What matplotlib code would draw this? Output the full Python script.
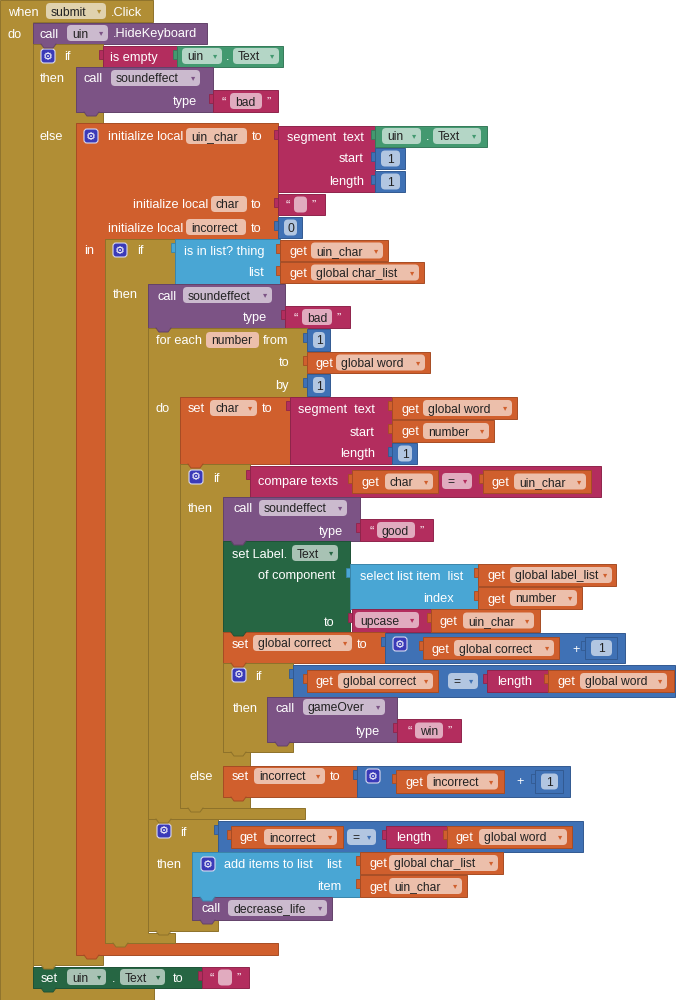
import matplotlib
matplotlib.use('Agg')
import matplotlib.pyplot as plt
from matplotlib.patches import Rectangle, FancyBboxPatch, Polygon
from matplotlib.colors import to_rgb

# names shown in the blocks
component = 'uin'
event_name = ['submit', '.Click']
locals_ = ['uin_char', 'char', 'incorrect', 'number']
globals_ = ['global char_list', 'global word', 'global label_list', 'global correct']
procs = ['soundeffect', 'gameOver', 'decrease_life']
sounds = ['bad', 'bad', 'good', 'win']

GOLD = '#b18e35'
PURPLE = '#7c5385'
MAGENTA = '#b32d5e'
ORANGE = '#d05f2d'
BLUE = '#3f71b5'
LBLUE = '#49a6d4'
GREEN = '#439970'
DGREEN = '#266643'

FS = 9.2    # block labels
FFS = 8.7   # text inside fields
FONT = ['Liberation Sans', 'DejaVu Sans']

fig = plt.figure(figsize=(6.84, 10), dpi=100)
ax = fig.add_axes([0, 0, 1, 1])
ax.set_xlim(0, 684)
ax.set_ylim(1000, 0)
ax.axis('off')

notches = []  # bumps under statement blocks, drawn last


def dark(c, f=0.8):
    r, g, b = to_rgb(c)
    return (r * f, g * f, b * f)


def light(c, f=0.6):
    r, g, b = to_rgb(c)
    return (r + (1 - r) * f, g + (1 - g) * f, b + (1 - b) * f)


def box(x0, y0, x1, y1, c, tab=False, stmt=False):
    if tab:
        ax.add_patch(Rectangle((x0 - 4, y0 + 4), 5, 9, fc=c, ec=dark(c), lw=0.6))
    ax.add_patch(Rectangle((x0, y0), x1 - x0, y1 - y0, fc=c, ec=dark(c), lw=0.7))
    if stmt:
        notches.append((x0, y1, c))


def cshape(x0, xc, bands, c):
    # C shaped statement block: horizontal bands joined by a left column
    pts = [(x0, bands[0][0])]
    for i, (ya, yb, xr) in enumerate(bands):
        if i > 0:
            pts.append((xc, ya))
        pts += [(xr, ya), (xr, yb)]
        if i < len(bands) - 1:
            pts.append((xc, yb))
    pts.append((x0, bands[-1][1]))
    ax.add_patch(Polygon(pts, closed=True, fc=c, ec=dark(c), lw=0.7))
    notches.append((x0, bands[-1][1], c))


def lab(x, y, s, ha='left'):
    ax.text(x, y, s, color='white', fontsize=FS, ha=ha, va='center_baseline', family=FONT)


def fld(x0, x1, y, s, c, arrow=True, center=False):
    ax.add_patch(FancyBboxPatch((x0, y - 8), x1 - x0, 16,
                                boxstyle='round,pad=0,rounding_size=4',
                                fc=light(c), ec='none'))
    if center:
        ax.text((x0 + x1) / 2, y, s, color='#222222', fontsize=FFS, ha='center',
                va='center_baseline', family=FONT)
    else:
        ax.text(x0 + 5, y, s, color='#222222', fontsize=FFS, ha='left',
                va='center_baseline', family=FONT)
    if arrow:
        ax.text(x1 - 7, y, '\u25be', color=c, fontsize=6, ha='center', va='center',
                family='DejaVu Sans')


def gear(cx, cy):
    ax.add_patch(FancyBboxPatch((cx - 7, cy - 7), 14, 14,
                                boxstyle='round,pad=0,rounding_size=3',
                                fc='#3a3ab8', ec='#d8d8f0', lw=0.8))
    ax.text(cx, cy + 0.5, '\u2699', color='white', fontsize=8, ha='center', va='center',
            family='DejaVu Sans')


def string(x0, y0, x1, y1, fx0, fx1, s):
    box(x0, y0, x1, y1, MAGENTA, tab=True)
    cy = (y0 + y1) / 2
    lab(fx0 - 8, cy, '\u201c')
    fld(fx0, fx1, cy, s, MAGENTA, arrow=False)
    lab(fx1 + 5, cy, '\u201d')


def num(x0, y0, x1, y1, s):
    box(x0, y0, x1, y1, BLUE, tab=True)
    fld(x0 + 6, x1 - 5, (y0 + y1) / 2, s, BLUE, arrow=False, center=True)


def get(x0, y0, x1, y1, fx0, fx1, name):
    box(x0, y0, x1, y1, ORANGE, tab=True)
    cy = (y0 + y1) / 2
    lab(x0 + 9, cy, 'get')
    fld(fx0, fx1, cy, name, ORANGE)


# when submit.Click
cshape(0, 33, [(0, 22, 153), (988, 1000, 154)], GOLD)
notches.pop()
lab(8, 11, 'when')
fld(46, 106, 11, event_name[0], GOLD)
lab(111, 11, event_name[1])
lab(8, 34, 'do')

box(33, 23, 207, 44, PURPLE, stmt=True)
lab(40, 33, 'call')
fld(67, 108, 33, component, PURPLE)
lab(113, 33, '.HideKeyboard')

# if is empty
cshape(33, 76, [(44, 67, 103), (112, 123, 103), (955, 965, 103)], GOLD)
gear(48, 56)
lab(64, 56, 'if')
lab(40, 78, 'then')
lab(40, 135, 'else')
box(103, 46, 177, 67, MAGENTA, tab=True)
lab(110, 56, 'is empty')
box(177, 46, 283, 67, GREEN, tab=True)
fld(182, 222, 56, component, GREEN)
lab(226, 56, '.')
fld(233, 279, 56, 'Text', GREEN)

box(76, 67, 213, 112, PURPLE, stmt=True)
lab(84, 78, 'call')
fld(111, 200, 78, procs[0], PURPLE)
lab(197, 101, 'type', 'right')
string(213, 90, 278, 112, 230, 262, sounds[0])

# initialize locals
cshape(76, 105, [(123, 239, 278), (943, 955, 278)], ORANGE)
gear(91, 136)
lab(108, 136, 'initialize local')
fld(186, 247, 136, locals_[0], ORANGE, arrow=False)
lab(252, 136, 'to')
box(278, 126, 375, 192, MAGENTA, tab=True)
lab(364, 136, 'segment  text', 'right')
lab(364, 158, 'start', 'right')
lab(364, 181, 'length', 'right')
box(375, 126, 487, 147, GREEN, tab=True)
fld(382, 421, 136, component, GREEN)
lab(426, 136, '.')
fld(433, 481, 136, 'Text', GREEN)
num(375, 148, 405, 169, '1')
num(375, 171, 405, 192, '1')
lab(133, 204, 'initialize local')
fld(211, 247, 204, locals_[1], ORANGE, arrow=False)
lab(251, 204, 'to')
string(278, 194, 325, 215, 294, 307, '')
lab(108, 227, 'initialize local')
fld(186, 246, 227, locals_[2], ORANGE, arrow=False)
lab(251, 227, 'to')
num(278, 217, 302, 238, '0')
lab(84, 249, 'in')

# if is in list?
cshape(105, 148, [(239, 284, 175), (933, 943, 175)], GOLD)
gear(120, 250)
lab(137, 250, 'if')
lab(113, 294, 'then')
box(175, 239, 280, 284, LBLUE, tab=True)
lab(264, 250, 'is in list? thing', 'right')
lab(264, 272, 'list', 'right')
get(280, 240, 388, 261, 311, 383, locals_[0])
get(280, 262, 424, 283, 311, 419, globals_[0])

box(148, 284, 285, 328, PURPLE, stmt=True)
lab(157, 295, 'call')
fld(183, 272, 295, procs[0], PURPLE)
lab(267, 317, 'type', 'right')
string(285, 306, 350, 328, 302, 332, sounds[1])

# for each number
cshape(148, 180, [(328, 397, 307), (808, 819, 305)], GOLD)
lab(156, 340, 'for each')
fld(206, 259, 340, locals_[3], ORANGE, arrow=False)
lab(263, 340, 'from')
lab(289, 362, 'to', 'right')
lab(289, 385, 'by', 'right')
lab(156, 407, 'do')
num(307, 329, 330, 351, '1')
get(307, 352, 430, 373, 336, 425, globals_[1])
num(307, 374, 330, 396, '1')

# set char
box(180, 397, 290, 464, ORANGE, stmt=True)
lab(188, 408, 'set')
fld(210, 257, 408, locals_[1], ORANGE)
lab(262, 408, 'to')
box(290, 397, 392, 464, MAGENTA, tab=True)
lab(375, 408, 'segment  text', 'right')
lab(375, 431, 'start', 'right')
lab(375, 453, 'length', 'right')
get(392, 397, 517, 419, 423, 512, globals_[1])
get(392, 420, 494, 442, 423, 489, locals_[3])
num(392, 443, 417, 464, '1')

# if compare texts
cshape(180, 223, [(464, 497, 250), (752, 766, 250), (797, 808, 250)], GOLD)
gear(196, 477)
lab(213, 477, 'if')
lab(188, 507, 'then')
lab(189, 775, 'else')
box(250, 466, 601, 497, MAGENTA, tab=True)
lab(258, 481, 'compare texts')
get(352, 470, 438, 493, 385, 433, locals_[1])
fld(442, 472, 481, '=', MAGENTA)
get(483, 470, 591, 493, 514, 586, locals_[0])

box(223, 497, 360, 541, PURPLE, stmt=True)
lab(233, 508, 'call')
fld(259, 347, 508, procs[0], PURPLE)
lab(343, 531, 'type', 'right')
string(360, 519, 433, 541, 377, 415, sounds[2])

# set Label.Text
box(223, 541, 350, 632, DGREEN, stmt=True)
lab(232, 553, 'set Label.')
fld(292, 338, 553, 'Text', DGREEN)
lab(335, 575, 'of component', 'right')
lab(334, 621, 'to', 'right')
box(350, 564, 478, 609, LBLUE, tab=True)
lab(463, 575, 'select list item  list', 'right')
lab(454, 597, 'index', 'right')
get(478, 564, 616, 586, 510, 612, globals_[2])
get(478, 587, 582, 609, 510, 577, locals_[3])
box(352, 609, 431, 632, MAGENTA, tab=True)
fld(355, 419, 620, 'upcase', MAGENTA)
get(431, 609, 540, 632, 463, 534, locals_[0])

# set global correct
box(223, 632, 385, 663, ORANGE, stmt=True)
lab(232, 643, 'set')
fld(253, 352, 643, globals_[3], ORANGE)
lab(357, 643, 'to')
box(385, 633, 625, 663, BLUE, tab=True)
gear(400, 644)
get(423, 637, 559, 659, 454, 554, globals_[3])
lab(572, 648, '+')
num(585, 637, 617, 659, '1')

# if correct = length
cshape(223, 267, [(663, 697, 293), (742, 752, 293)], GOLD)
gear(239, 675)
lab(255, 675, 'if')
lab(233, 707, 'then')
box(293, 665, 675, 697, BLUE, tab=True)
get(307, 670, 438, 692, 338, 433, globals_[3])
fld(448, 478, 681, '=', BLUE)
box(487, 670, 548, 692, MAGENTA, tab=True)
lab(497, 681, 'length')
get(548, 670, 674, 692, 580, 667, globals_[1])

box(267, 697, 397, 742, PURPLE, stmt=True)
lab(275, 707, 'call')
fld(303, 385, 707, procs[1], PURPLE)
lab(380, 730, 'type', 'right')
string(397, 719, 461, 742, 415, 443, sounds[3])

# else: set incorrect
box(223, 766, 357, 797, ORANGE, stmt=True)
lab(232, 776, 'set')
fld(254, 325, 776, locals_[2], ORANGE)
lab(330, 776, 'to')
box(357, 766, 570, 797, BLUE, tab=True)
gear(373, 776)
get(396, 770, 504, 793, 427, 498, locals_[2])
lab(516, 781, '+')
num(535, 770, 563, 793, '1')

# if incorrect = length
cshape(148, 192, [(819, 852, 218), (920, 931, 218)], GOLD)
gear(164, 831)
lab(180, 831, 'if')
lab(157, 863, 'then')
box(218, 821, 583, 852, BLUE, tab=True)
get(231, 826, 343, 848, 264, 337, locals_[2])
fld(347, 376, 837, '=', BLUE)
box(386, 826, 447, 848, MAGENTA, tab=True)
lab(396, 837, 'length')
get(447, 826, 572, 848, 479, 567, globals_[1])

box(192, 852, 360, 897, LBLUE, stmt=True)
gear(208, 864)
lab(224, 864, 'add items to list')
lab(342, 864, 'list', 'right')
lab(341, 886, 'item', 'right')
get(360, 852, 503, 874, 389, 498, globals_[0])
get(360, 875, 467, 897, 389, 462, locals_[0])
box(192, 897, 332, 920, PURPLE, stmt=True)
lab(201, 908, 'call')
fld(228, 327, 908, procs[2], PURPLE)

# set uin.Text to ""
box(33, 967, 202, 988, DGREEN, stmt=True)
lab(41, 977, 'set')
fld(67, 106, 977, component, DGREEN)
lab(112, 977, '.')
fld(120, 165, 977, 'Text', DGREEN)
lab(173, 977, 'to')
string(202, 967, 249, 988, 218, 232, '')

for x0, y1, c in notches:
    ax.add_patch(Polygon([(x0 + 8, y1 - 1), (x0 + 11, y1 + 4), (x0 + 20, y1 + 4),
                          (x0 + 23, y1 - 1)], closed=True, fc=c, ec='none', zorder=3))
    ax.plot([x0 + 8, x0 + 11, x0 + 20, x0 + 23], [y1, y1 + 4, y1 + 4, y1],
            color=dark(c), lw=0.7, zorder=3)

fig.savefig('out.png', dpi=100)
